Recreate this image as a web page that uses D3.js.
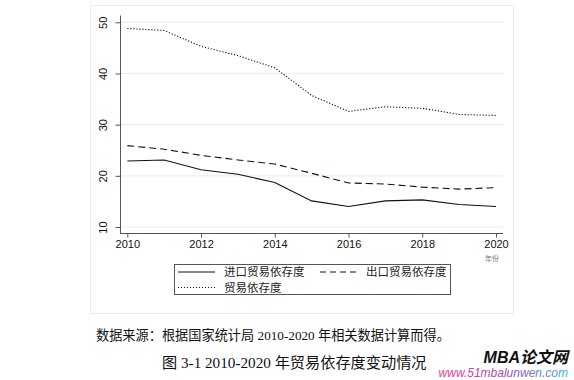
<!DOCTYPE html>
<html>
<head>
<meta charset="utf-8">
<script src="https://cdn.jsdelivr.net/npm/d3@7"></script>
<style>
  body { margin: 0; background: #fff; }
  svg { display: block; }
</style>
</head>
<body>
<script>
//------------ DATA ----------------------
const years = [2010, 2011, 2012, 2013, 2014, 2015, 2016, 2017, 2018, 2019, 2020];
const importDep = [22.9, 23.1, 21.2, 20.3, 18.7, 15.1, 14.0, 15.1, 15.3, 14.4, 14.0];
const exportDep = [25.9, 25.2, 24.0, 23.1, 22.3, 20.5, 18.6, 18.4, 17.8, 17.4, 17.7];
const totalDep = [48.8, 48.4, 45.3, 43.5, 41.1, 35.7, 32.6, 33.5, 33.2, 32.0, 31.8];
const yTicks = [10, 20, 30, 40, 50];
const xTicks = [2010, 2012, 2014, 2016, 2018, 2020];
const seriesNames = ["进口贸易依存度", "出口贸易依存度", "贸易依存度"];
//----------------------------------------

const width = 574, height = 380;
const cjk = "'Liberation Serif', 'Noto Sans CJK SC', serif";

var svg = d3.select("body").append("svg")
    .attr("width", width)
    .attr("height", height);

// outer frame of the graph
svg.append("rect")
    .attr("x", 90.5).attr("y", 5.5)
    .attr("width", 423).attr("height", 308)
    .attr("fill", "#fff")
    .attr("stroke", "#e8eeee");

var x = d3.scaleLinear().domain([2010, 2020]).range([127.3, 496]);
var y = d3.scaleLinear().domain([10, 50]).range([227, 22.3]);

// gridlines
svg.append("g")
  .selectAll("line")
  .data(yTicks)
  .join("line")
    .attr("x1", 121).attr("x2", 503)
    .attr("y1", d => y(d)).attr("y2", d => y(d))
    .attr("stroke", "#e6f0f0")
    .attr("stroke-width", 1.2);

// y axis
var yAxis = svg.append("g")
    .attr("transform", "translate(120.5,0)")
    .call(d3.axisLeft(y).tickValues(yTicks).tickSize(5).tickSizeOuter(0));
yAxis.select(".domain").attr("d", "M0,15.5V233.5");
yAxis.selectAll(".tick text")
    .attr("transform", "rotate(-90)")
    .attr("x", 0).attr("y", -14).attr("dy", "0")
    .attr("text-anchor", "middle");

// x axis
var xAxis = svg.append("g")
    .attr("transform", "translate(0,233.5)")
    .call(d3.axisBottom(x).tickValues(xTicks).tickFormat(d3.format("d")).tickSize(4).tickSizeOuter(0));
xAxis.select(".domain").attr("d", "M120,0H503");
xAxis.selectAll("text").attr("y", 7);

svg.selectAll(".tick text")
    .attr("font-family", "'Liberation Sans', Arial, sans-serif")
    .attr("font-size", 11)
    .attr("fill", "#111");
svg.selectAll(".domain, .tick line").attr("stroke", "#555");

svg.append("text")
    .attr("x", 492).attr("y", 261)
    .attr("text-anchor", "middle")
    .attr("font-family", cjk)
    .attr("font-size", 7)
    .attr("fill", "#777")
    .text("年份");

// lines
var line = d3.line().x((d, i) => x(years[i])).y(d => y(d));
var styles = [
    { data: importDep, dash: null },
    { data: exportDep, dash: "7,4" },
    { data: totalDep, dash: "1.2,1.8" }
];
svg.append("g")
  .selectAll("path")
  .data(styles)
  .join("path")
    .attr("d", d => line(d.data))
    .attr("fill", "none")
    .attr("stroke", "#111")
    .attr("stroke-width", 1.1)
    .attr("stroke-dasharray", d => d.dash);

// legend
var legend = svg.append("g");
legend.append("rect")
    .attr("x", 174.5).attr("y", 264.5)
    .attr("width", 276).attr("height", 30)
    .attr("fill", "#fff")
    .attr("stroke", "#555");
var legPos = [[178, 272], [320, 272], [178, 287.5]];
styles.forEach(function(s, i) {
    var p = legPos[i];
    legend.append("line")
        .attr("x1", p[0]).attr("x2", p[0] + 37)
        .attr("y1", p[1]).attr("y2", p[1])
        .attr("stroke", "#111")
        .attr("stroke-width", 1.1)
        .attr("stroke-dasharray", s.dash === "7,4" ? "6,4" : (s.dash ? "1,2" : null));
    legend.append("text")
        .attr("x", p[0] + 46).attr("y", p[1])
        .attr("dy", "0.36em")
        .attr("font-family", cjk)
        .attr("font-size", 11.5)
        .attr("fill", "#222")
        .text(seriesNames[i]);
});

// source and caption
svg.append("text")
    .attr("x", 96).attr("y", 335)
    .attr("dy", "0.36em")
    .attr("font-family", cjk)
    .attr("font-size", 13.2)
    .attr("fill", "#111")
    .text("数据来源：根据国家统计局 2010-2020 年相关数据计算而得。");

svg.append("text")
    .attr("x", 162).attr("y", 363)
    .attr("dy", "0.36em")
    .attr("font-family", cjk)
    .attr("font-size", 15.2)
    .attr("fill", "#111")
    .text("图 3-1 2010-2020 年贸易依存度变动情况");

// watermark
var grad = svg.append("defs").append("linearGradient")
    .attr("id", "wm").attr("x1", "0%").attr("x2", "100%");
grad.append("stop").attr("offset", "0%").attr("stop-color", "#e8408c");
grad.append("stop").attr("offset", "55%").attr("stop-color", "#9a4fb0");
grad.append("stop").attr("offset", "100%").attr("stop-color", "#38b8d8");

svg.append("text")
    .attr("x", 568).attr("y", 357)
    .attr("dy", "0.36em")
    .attr("text-anchor", "end")
    .attr("font-family", "'Liberation Sans', 'Noto Sans CJK SC', sans-serif")
    .attr("font-weight", "bold")
    .attr("font-style", "italic")
    .attr("font-size", 16)
    .attr("fill", "#111")
    .text("MBA论文网");

svg.append("text")
    .attr("x", 568).attr("y", 373)
    .attr("dy", "0.36em")
    .attr("text-anchor", "end")
    .attr("font-family", "'Liberation Sans', sans-serif")
    .attr("font-style", "italic")
    .attr("font-size", 12)
    .attr("fill", "url(#wm)")
    .text("www.51mbalunwen.com");
</script>
</body>
</html>
